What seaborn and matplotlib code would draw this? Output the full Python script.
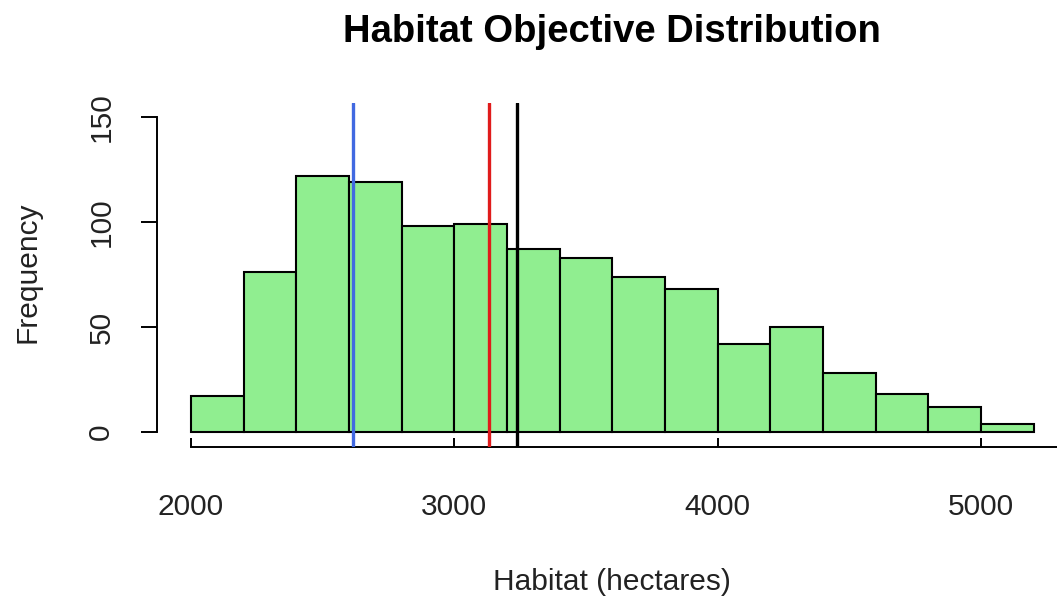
import matplotlib
matplotlib.use("Agg")
import matplotlib.pyplot as plt
import seaborn as sns
import pandas as pd

# Histogram counts per 200-hectare bin
bin_edges = [2000, 2200, 2400, 2600, 2800, 3000, 3200, 3400, 3600,
             3800, 4000, 4200, 4400, 4600, 4800, 5000, 5200]
counts = [17, 76, 122, 119, 98, 99, 87, 83, 74, 68, 42, 50, 28, 18, 12, 4]

# Reference values drawn as vertical lines
ref_values = [2614, 3132, 3237]
ref_colors = ["#4169E1", "#E01B1B", "#000000"]

x_ticks = [2000, 3000, 4000, 5000]
y_ticks = [0, 50, 100, 150]

title = "Habitat Objective Distribution"
x_label = "Habitat (hectares)"
y_label = "Frequency"

sns.set_style("white")
plt.rcParams["font.family"] = ["Liberation Sans", "DejaVu Sans"]

mids = [(a + b) / 2 for a, b in zip(bin_edges[:-1], bin_edges[1:])]
df = pd.DataFrame({"habitat": mids, "count": counts})

W, H = 1057, 598
fig = plt.figure(figsize=(W / 100, H / 100), dpi=100)
ax = fig.add_axes([157 / W, (H - 447) / H, 900 / W, 344 / H])

sns.histplot(data=df, x="habitat", weights="count", bins=bin_edges,
             color="#90EE90", edgecolor="black", linewidth=1.5,
             alpha=1, ax=ax, zorder=2)

for v, c in zip(ref_values, ref_colors):
    ax.axvline(v, color=c, linewidth=2.4, zorder=3)

ax.set_xlim(1871, 5289)
ax.set_ylim(-7.1, 156.7)

for s in ["top", "right"]:
    ax.spines[s].set_visible(False)
ax.spines["left"].set_bounds(0, 150)
ax.spines["bottom"].set_bounds(2000, 5289)
for s in ["left", "bottom"]:
    ax.spines[s].set_linewidth(1.4)
    ax.spines[s].set_color("black")

ax.set_xticks(x_ticks)
ax.set_yticks(y_ticks)
ax.tick_params(axis="x", bottom=True, direction="in", length=6.5, width=1.4,
               pad=33, labelsize=21.5, colors="black")
ax.tick_params(axis="y", left=True, direction="out", length=11.5, width=1.4,
               pad=18.5, labelsize=21.5, labelrotation=90, colors="black")
for lab in ax.get_yticklabels():
    lab.set_va("center")
    lab.set_color("#222222")
for lab in ax.get_xticklabels():
    lab.set_color("#222222")

ax.set_xlabel("")
ax.set_ylabel("")

fig.text(611.5 / W, 1 - 42 / H, title, ha="center", va="baseline",
         fontsize=27.5, fontweight="bold", color="black")
fig.text(611.5 / W, 1 - 590 / H, x_label, ha="center", va="baseline",
         fontsize=21.5, color="#222222")
fig.text(28 / W, 1 - 272 / H, y_label, ha="center", va="center",
         rotation=90, fontsize=21.5, color="#222222")

fig.savefig("out.png", dpi=100)
